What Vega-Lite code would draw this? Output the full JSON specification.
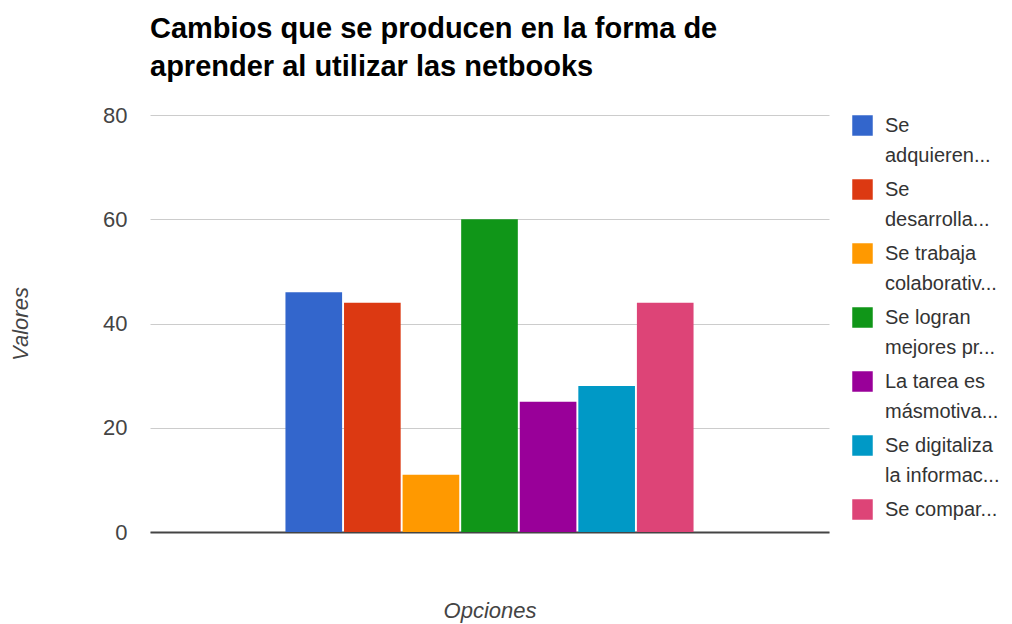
{
  "$schema": "https://vega.github.io/schema/vega-lite/v6.json",
  "width": 679,
  "height": 417,
  "autosize": {"type": "none"},
  "padding": {"left": 150, "top": 115, "right": 183, "bottom": 92},
  "background": "white",
  "title": {
    "text": ["Cambios que se producen en la forma de", "aprender al utilizar las netbooks"],
    "anchor": "start",
    "frame": "group",
    "font": "Liberation Sans",
    "fontSize": 29,
    "fontWeight": "bold",
    "color": "#000000",
    "lineHeight": 38,
    "offset": 22
  },
  "data": {
    "values": [
      {"grupo": "", "opcion": "Se adquieren...", "valor": 46},
      {"grupo": "", "opcion": "Se desarrolla...", "valor": 44},
      {"grupo": "", "opcion": "Se trabaja colaborativ...", "valor": 11},
      {"grupo": "", "opcion": "Se logran mejores pr...", "valor": 60},
      {"grupo": "", "opcion": "La tarea es másmotiva...", "valor": 25},
      {"grupo": "", "opcion": "Se digitaliza la informac...", "valor": 28},
      {"grupo": "", "opcion": "Se compar...", "valor": 44}
    ]
  },
  "mark": {"type": "bar"},
  "encoding": {
    "x": {
      "field": "grupo",
      "type": "nominal",
      "scale": {"paddingInner": 0, "paddingOuter": 0.328},
      "axis": {
        "title": "Opciones",
        "labels": false,
        "ticks": false,
        "domainColor": "#444444",
        "domainWidth": 2,
        "titleFont": "Liberation Sans",
        "titleFontStyle": "italic",
        "titleFontWeight": "normal",
        "titleFontSize": 22,
        "titleColor": "#444444",
        "titlePadding": 68
      }
    },
    "xOffset": {
      "field": "opcion",
      "type": "nominal",
      "sort": null,
      "scale": {"paddingInner": 0.033, "paddingOuter": 0.0165}
    },
    "y": {
      "field": "valor",
      "type": "quantitative",
      "scale": {"domain": [0, 80], "nice": false},
      "axis": {
        "values": [0, 20, 40, 60, 80],
        "title": "Valores",
        "domain": false,
        "ticks": false,
        "gridColor": "#cccccc",
        "gridWidth": 1,
        "labelFont": "Liberation Sans",
        "labelFontSize": 22,
        "labelColor": "#444444",
        "labelPadding": 23,
        "titleFont": "Liberation Sans",
        "titleFontStyle": "italic",
        "titleFontWeight": "normal",
        "titleFontSize": 22,
        "titleColor": "#444444",
        "titlePadding": 70
      }
    },
    "color": {
      "field": "opcion",
      "type": "nominal",
      "sort": null,
      "scale": {"range": ["#3366cc", "#dc3912", "#ff9900", "#109618", "#990099", "#0099c6", "#dd4477"]},
      "legend": {
        "title": null,
        "orient": "right",
        "offset": 23,
        "symbolType": "square",
        "symbolSize": 420,
        "symbolStrokeWidth": 0,
        "symbolOpacity": 1,
        "labelFont": "Liberation Sans",
        "labelFontSize": 20,
        "labelColor": "#333333",
        "labelLimit": 300,
        "labelOffset": 12,
        "labelBaseline": "middle",
        "rowPadding": 13,
        "labelExpr": "datum.label == 'Se adquieren...' ? ['Se', 'adquieren...'] : datum.label == 'Se desarrolla...' ? ['Se', 'desarrolla...'] : datum.label == 'Se trabaja colaborativ...' ? ['Se trabaja', 'colaborativ...'] : datum.label == 'Se logran mejores pr...' ? ['Se logran', 'mejores pr...'] : datum.label == 'La tarea es másmotiva...' ? ['La tarea es', 'másmotiva...'] : datum.label == 'Se digitaliza la informac...' ? ['Se digitaliza', 'la informac...'] : datum.label"
      }
    }
  },
  "config": {
    "font": "Liberation Sans",
    "view": {"stroke": null},
    "style": {"guide-label": {"lineHeight": 30}}
  }
}
